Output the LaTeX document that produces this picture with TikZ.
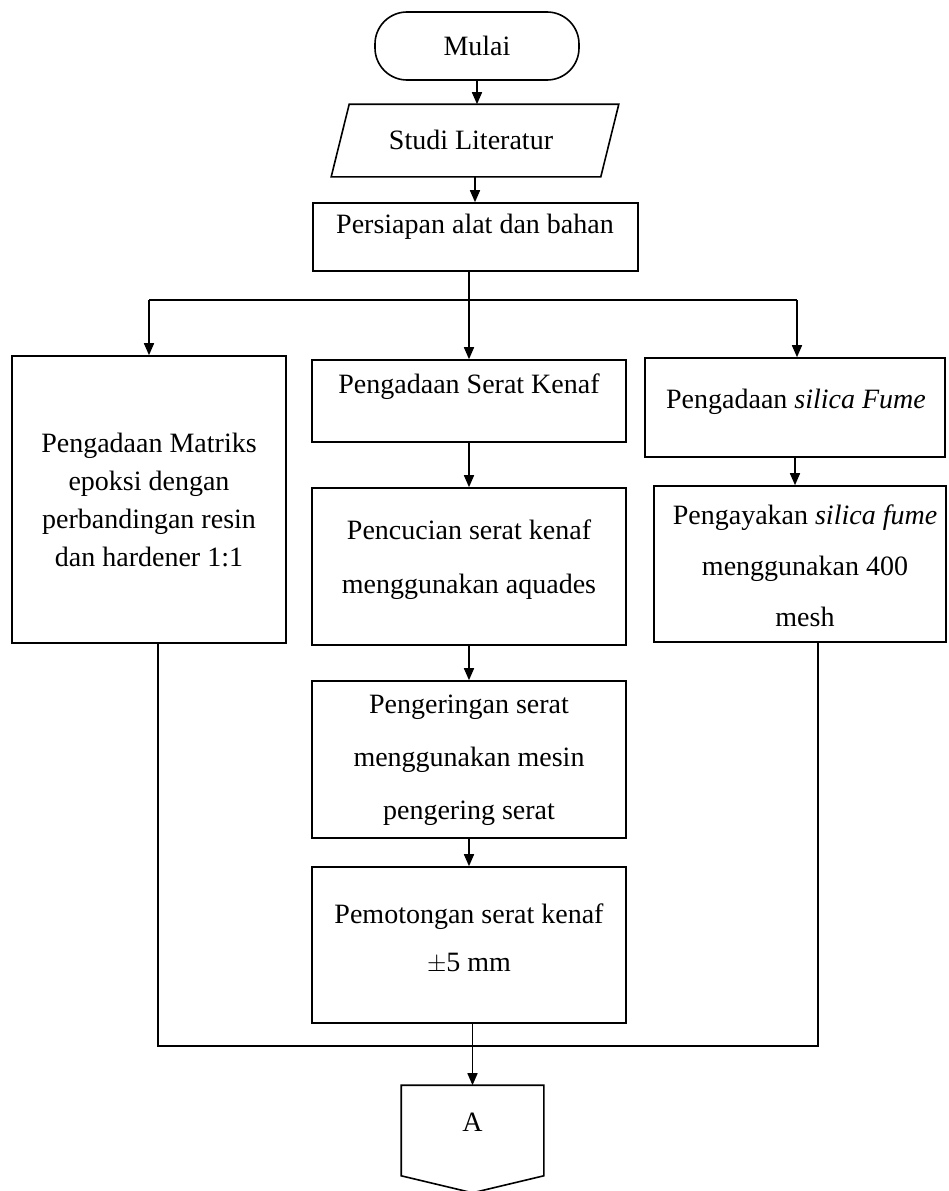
\documentclass[tikz,border=0pt]{standalone}
\usepackage{fontspec}
\setmainfont{Liberation Serif}
\usetikzlibrary{arrows.meta,calc}
\tikzset{
  boxshape/.style={draw, rectangle, inner sep=0pt},
  txt/.style={align=center, inner sep=0pt, font=\fontsize{28}{#1}\selectfont},
  txt/.default=52,
  arr/.style={-{Triangle[length=12pt,width=10pt]}},
}
\begin{document}
\begin{tikzpicture}[x=1pt,y=-1pt,line width=1.6pt]
\useasboundingbox (0,0) rectangle (948,1191);
% start
\node[draw, rounded corners=32pt, minimum width=204pt, minimum height=68pt, inner sep=0pt, font=\fontsize{28}{34}\selectfont] (mulai) at (477,46) {Mulai};
% studi literatur
\node[minimum width=286pt, minimum height=71pt, inner sep=0pt] (studibox) at (475,140.5) {};
\draw ($(studibox.north west)+(18pt,0)$) -- (studibox.north east) -- ($(studibox.south east)+(-18pt,0)$) -- (studibox.south west) -- cycle;
\node[txt] (studi) at (471,140) {Studi Literatur};
% persiapan
\node[boxshape, minimum width=325pt, minimum height=68pt] (persiapan) at (475.5,237) {};
\node[txt] (persiapanT) at (475,227) {Persiapan alat dan bahan};
% left column
\node[boxshape, minimum width=274pt, minimum height=287pt] (matriks) at (149,499.5) {};
\node[txt=38] (matriksT) at (149,500) {Pengadaan Matriks\\epoksi dengan\\perbandingan resin\\dan hardener 1:1};
% middle column
\node[boxshape, minimum width=314pt, minimum height=82pt] (serat) at (469,401) {};
\node[txt] (seratT) at (469,387) {Pengadaan Serat Kenaf};
\node[boxshape, minimum width=314pt, minimum height=157pt] (cuci) at (469,566.5) {};
\node[txt=54] (cuciT) at (469,560) {Pencucian serat kenaf\\menggunakan aquades};
\node[boxshape, minimum width=314pt, minimum height=157pt] (kering) at (469,759.5) {};
\node[txt=53] (keringT) at (469,760) {Pengeringan serat\\menggunakan mesin\\pengering serat};
\node[boxshape, minimum width=314pt, minimum height=156pt] (potong) at (469,945) {};
\node[txt=48] (potongT) at (469,939) {Pemotongan serat kenaf\\$\pm$5 mm};
% right column
\node[boxshape, minimum width=300pt, minimum height=99pt] (silica) at (795,407.5) {};
\node[txt] (silicaT) at (796,402) {Pengadaan \textit{silica Fume}};
\node[boxshape, minimum width=292pt, minimum height=156pt] (ayak) at (800,564) {};
\node[txt=51] (ayakT) at (805,566) {Pengayakan \textit{silica fume}\\menggunakan 400\\mesh};
% off-page connector
\node[minimum width=141pt, minimum height=89pt, inner sep=0pt] (Abox) at (472.5,1130.5) {};
\draw (Abox.south west) -- (Abox.north west) -- (Abox.north east) -- (Abox.south east) -- ($(Abox.south)+(0,-17pt)$) -- cycle;
\node[txt] (Atext) at (472.5,1122) {A};
% connectors
\draw[arr] (mulai.south) -- (mulai.south |- studibox.north);
\draw[arr] (studibox.south) -- (studibox.south |- persiapan.north);
\coordinate (bl) at (149,300);
\coordinate (br) at (797,300);
\draw (bl) -- (br);
\draw[arr] (persiapan.south -| serat.north) -- (serat.north);
\draw[arr] (bl) -- (matriks.north);
\draw[arr] (br) -- (br |- silica.north);
\draw[arr] (serat.south) -- (cuci.north);
\draw[arr] (cuci.south) -- (kering.north);
\draw[arr] (kering.south) -- (potong.north);
\draw[arr] (silica.south) -- (silica.south |- ayak.north);
\coordinate (jl) at (158,1046);
\coordinate (jr) at (818,1046);
\draw (jl |- matriks.south) -- (jl) -- (jr) -- (jr |- ayak.south);
\draw[arr] (potong.south -| Abox.north) -- (Abox.north);
\end{tikzpicture}
\end{document}
